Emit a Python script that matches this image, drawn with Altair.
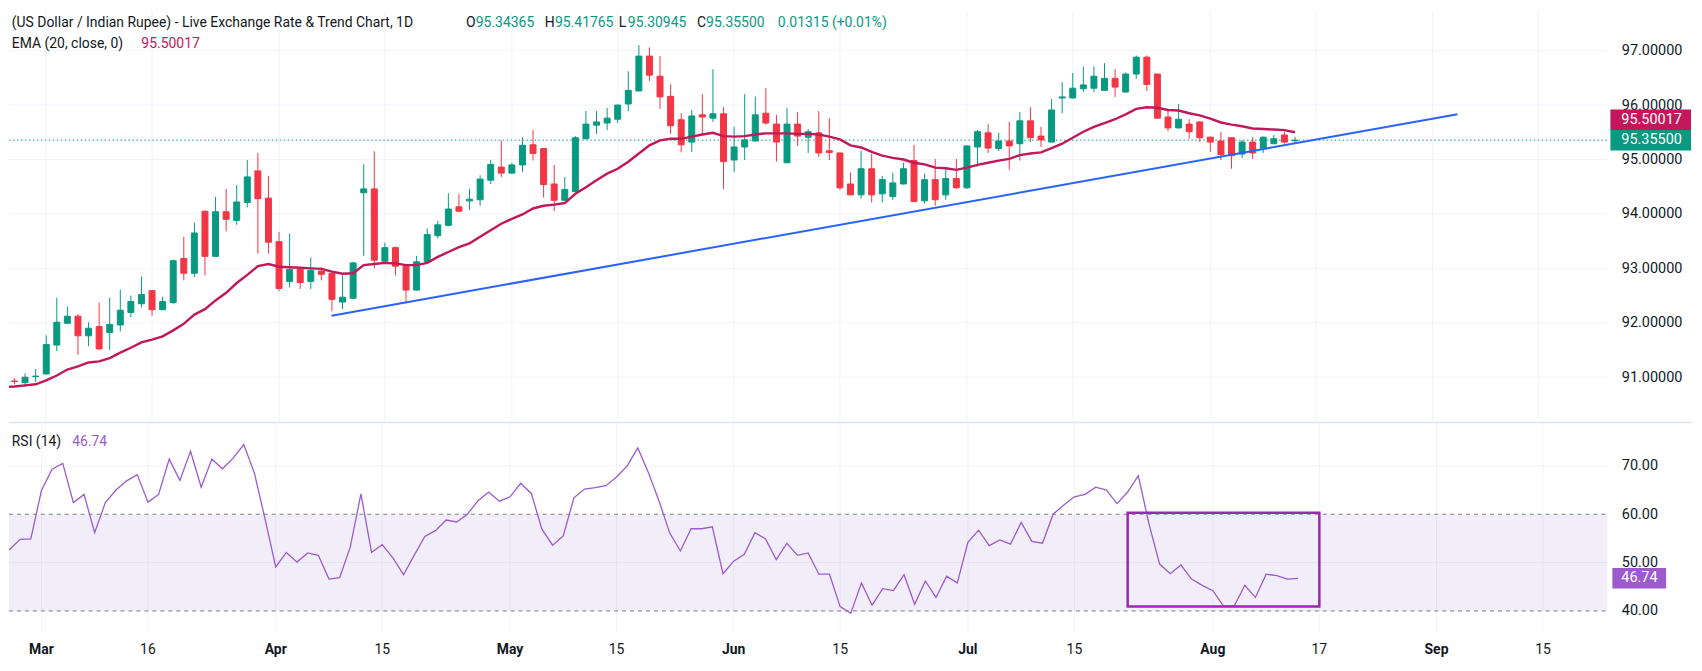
import altair as alt
import pandas as pd

alt.data_transformers.disable_max_rows()

# daily bars, weekends skipped; bar 0 = Mon 2 Mar, last bar = Thu 13 Aug
first_bar = -3
opens = [
    90.93, 90.90, 91.01, 91.06, 91.59, 91.99, 92.12, 91.76, 91.93, 91.82,
    91.96, 92.19, 92.35, 92.59, 92.24, 92.37, 93.18, 92.91, 94.05, 93.22,
    94.04, 93.88, 94.21, 94.79, 94.29, 93.49, 92.76, 92.98, 92.76, 92.95,
    92.91, 92.38, 92.45, 94.39, 94.46, 93.13, 93.38, 93.04, 92.60, 93.12,
    93.60, 93.79, 94.13, 94.24, 94.26, 94.62, 94.86, 94.75, 94.90, 95.27,
    95.20, 94.55, 94.25, 94.41, 95.38, 95.63, 95.67, 95.74, 96.02, 96.26,
    96.90, 96.53, 96.16, 95.73, 95.32, 95.82, 95.76, 95.84, 94.99, 95.23,
    95.34, 95.85, 95.65, 94.94, 95.65, 95.41, 95.49, 95.16, 95.12, 94.55,
    94.35, 94.83, 94.37, 94.32, 94.55, 94.98, 94.24, 94.63, 94.35, 94.65,
    94.48, 95.23, 95.49, 95.20, 95.34, 95.29, 95.71, 95.43, 95.32, 96.13,
    96.13, 96.30, 96.31, 96.27, 96.49, 96.24, 96.57, 96.88, 96.57, 95.78,
    95.58, 95.65, 95.69, 95.41, 95.34, 95.40, 95.10, 95.32, 95.20, 95.29,
    95.45, 95.34365,
]
highs = [
    90.98, 91.07, 91.15, 91.77, 92.46, 92.30, 92.16, 92.01, 92.37, 92.46,
    92.61, 92.50, 92.85, 92.60, 92.48, 93.16, 93.58, 93.84, 94.06, 94.31,
    94.46, 94.53, 94.99, 95.12, 94.70, 93.67, 93.64, 92.99, 93.20, 93.02,
    92.92, 92.87, 93.12, 94.91, 95.15, 93.47, 93.40, 93.05, 93.23, 93.73,
    93.87, 94.38, 94.37, 94.46, 94.71, 94.99, 95.35, 94.94, 95.41, 95.54,
    95.21, 94.90, 94.68, 95.43, 95.89, 95.89, 95.95, 96.01, 96.62, 97.10,
    97.06, 96.90, 96.38, 95.85, 95.91, 96.20, 96.66, 95.96, 95.60, 96.20,
    96.16, 96.31, 95.82, 95.95, 95.87, 95.56, 95.89, 95.76, 95.13, 94.76,
    95.16, 95.10, 94.70, 94.76, 94.94, 95.27, 94.74, 95.01, 94.83, 95.01,
    95.26, 95.54, 95.65, 95.49, 95.69, 95.87, 95.96, 95.60, 96.11, 96.42,
    96.59, 96.71, 96.71, 96.77, 96.66, 96.60, 96.91, 96.91, 96.57, 95.91,
    96.02, 95.74, 95.70, 95.42, 95.51, 95.41, 95.36, 95.41, 95.42, 95.45,
    95.51, 95.41765,
]
lows = [
    90.87, 90.82, 90.91, 91.05, 91.48, 91.98, 91.41, 91.57, 91.50, 91.50,
    91.84, 92.10, 92.28, 92.13, 92.23, 92.35, 92.78, 92.84, 92.87, 93.21,
    93.68, 93.80, 94.12, 93.27, 93.27, 92.58, 92.65, 92.62, 92.62, 92.78,
    92.21, 92.25, 92.43, 93.23, 93.00, 93.10, 92.87, 92.36, 92.59, 93.08,
    93.55, 93.77, 94.03, 94.07, 94.15, 94.55, 94.68, 94.74, 94.77, 94.98,
    94.30, 94.05, 94.24, 94.40, 95.37, 95.47, 95.54, 95.67, 95.89, 96.25,
    96.44, 95.93, 95.47, 95.13, 95.14, 95.47, 95.69, 94.46, 94.77, 94.99,
    95.33, 95.64, 94.96, 94.93, 95.25, 95.12, 95.05, 94.99, 94.44, 94.34,
    94.28, 94.21, 94.21, 94.26, 94.54, 94.21, 94.19, 94.15, 94.26, 94.46,
    94.46, 94.87, 95.12, 95.16, 94.81, 94.98, 95.32, 95.23, 95.32, 95.85,
    96.12, 96.24, 96.24, 96.27, 96.15, 96.23, 96.48, 96.26, 95.76, 95.52,
    95.57, 95.38, 95.32, 95.14, 94.99, 94.83, 95.03, 95.01, 95.12, 95.28,
    95.29, 95.30945,
]
closes = [
    90.92, 91.00, 91.02, 91.60, 92.01, 92.12, 91.76, 91.90, 91.52, 91.97,
    92.23, 92.39, 92.52, 92.24, 92.39, 93.14, 92.91, 93.65, 93.22, 94.04,
    93.90, 94.22, 94.68, 94.28, 93.48, 92.63, 92.98, 92.74, 92.96, 92.89,
    92.43, 92.47, 93.10, 94.46, 93.15, 93.38, 93.04, 92.60, 93.12, 93.62,
    93.80, 94.09, 94.05, 94.27, 94.64, 94.91, 94.75, 94.90, 95.26, 95.11,
    94.54, 94.25, 94.45, 95.40, 95.65, 95.69, 95.76, 96.00, 96.27, 96.90,
    96.55, 96.15, 95.62, 95.27, 95.80, 95.78, 95.84, 94.96, 95.23, 95.36,
    95.82, 95.67, 95.32, 95.65, 95.43, 95.51, 95.12, 95.13, 94.48, 94.35,
    94.83, 94.35, 94.63, 94.57, 94.83, 94.23, 94.63, 94.26, 94.65, 94.48,
    95.25, 95.51, 95.21, 95.34, 95.25, 95.71, 95.40, 95.36, 95.91, 96.15,
    96.31, 96.37, 96.53, 96.49, 96.33, 96.57, 96.88, 96.38, 95.76, 95.58,
    95.74, 95.51, 95.40, 95.32, 95.09, 95.07, 95.32, 95.12, 95.41, 95.38,
    95.32, 95.355,
]

first_line = -4
ema20 = [
    90.82, 90.83, 90.85, 90.87, 90.94, 91.03, 91.14, 91.20, 91.27, 91.29,
    91.35, 91.45, 91.54, 91.64, 91.69, 91.75, 91.86, 91.98, 92.15, 92.25,
    92.41, 92.55, 92.73, 92.88, 93.04, 93.08, 93.03, 93.02, 93.01, 93.00,
    92.99, 92.94, 92.90, 92.91, 93.06, 93.08, 93.10, 93.09, 93.06, 93.06,
    93.10, 93.21, 93.30, 93.39, 93.46, 93.58, 93.70, 93.82, 93.91, 93.99,
    94.10, 94.15, 94.17, 94.20, 94.37, 94.49, 94.62, 94.74, 94.83, 94.96,
    95.11, 95.26, 95.35, 95.38, 95.38, 95.42, 95.46, 95.49, 95.43, 95.42,
    95.43, 95.46, 95.48, 95.48, 95.48, 95.47, 95.47, 95.46, 95.42, 95.37,
    95.26, 95.22, 95.14, 95.07, 95.03, 95.00, 94.94, 94.91, 94.85, 94.84,
    94.81, 94.85, 94.90, 94.94, 94.98, 95.01, 95.08, 95.11, 95.13, 95.21,
    95.29, 95.40, 95.51, 95.60, 95.67, 95.74, 95.83, 95.93, 95.96, 95.95,
    95.91, 95.90, 95.85, 95.81, 95.75, 95.68, 95.64, 95.61, 95.57, 95.56,
    95.55, 95.54, 95.50017,
]
rsi14 = [
    52.8, 52.7, 54.8, 54.9, 64.9, 69.3, 70.5, 62.4, 64.1, 56.2,
    62.4, 65.0, 66.9, 68.2, 62.5, 64.1, 71.4, 67.0, 73.0, 65.6,
    71.4, 69.4, 71.6, 74.4, 68.5, 59.0, 49.1, 52.1, 50.1, 52.0,
    51.5, 46.6, 46.9, 53.2, 64.2, 52.1, 53.7, 51.0, 47.5, 51.5,
    55.4, 56.6, 58.8, 58.4, 60.0, 62.8, 64.6, 62.7, 63.6, 66.4,
    64.3, 56.9, 53.6, 55.5, 63.4, 65.2, 65.5, 65.9, 67.7, 70.0,
    73.7, 68.6, 62.7, 56.1, 52.4, 57.0, 57.0, 57.4, 47.7, 50.3,
    51.7, 56.2, 54.9, 50.6, 54.0, 51.5, 52.0, 47.6, 47.6, 40.9,
    39.5, 45.8, 41.2, 44.6, 44.2, 47.5, 41.4, 46.2, 42.8, 47.2,
    45.8, 54.2, 56.7, 53.5, 54.7, 53.8, 58.3, 54.4, 54.0, 60.0,
    61.9, 63.6, 64.1, 65.6, 65.0, 62.2, 64.6, 68.0, 58.0, 49.7,
    47.7, 49.5, 46.6, 45.3, 44.2, 41.0, 41.0, 45.3, 42.8, 47.6,
    47.3, 46.6, 46.74,
]

trend_bar = [26.96, 133.36]
trend_price = [92.13, 95.83]

box_bar = [102, 120]
box_rsi = [40.9, 60.3]

tick_bar = [0, 10, 22, 32, 44, 54, 65, 75, 87, 97, 110, 120, 131, 141]
tick_text = ["Mar", "16", "Apr", "15", "May", "15", "Jun", "15", "Jul", "15",
             "Aug", "17", "Sep", "15"]

price_ticks = [91, 92, 93, 94, 95, 96, 97]
rsi_ticks = [40, 50, 60, 70]
rsi_grid = [50, 70]
rsi_band = [40, 60]

title_text = "(US Dollar / Indian Rupee) - Live Exchange Rate & Trend Chart, 1D"
change_text = "0.01315 (+0.01%)"
ema_text = "EMA (20, close, 0)"
rsi_text = "RSI (14)"

# colours / layout
TXT = "#131722"
UP = "#089981"
DOWN = "#F23645"
EMA_C = "#C2185B"
TREND_C = "#2962FF"
RSI_C = "#9C5ACD"
BOX_C = "#9C27B0"
GRID = "#F0F3FA"
SEP = "#E0E3EB"
DASH = "#787B86"
FONT = "Roboto"
AX_FS = 14.5

W, HP, HR = 1606, 414, 211
xs = alt.Scale(domain=[-3.047, 147.05], nice=False, zero=False)
ps = alt.Scale(domain=[90.166, 97.737], nice=False, zero=False)
rs = alt.Scale(domain=[35.53, 78.95], nice=False, zero=False)

n = len(opens)
bars = pd.DataFrame({
    "bar": list(range(first_bar, first_bar + n)),
    "o": opens, "h": highs, "l": lows, "c": closes,
})
bars["dir"] = ["up" if c >= o else "down" for o, c in zip(opens, closes)]
lines = pd.DataFrame({
    "bar": list(range(first_line, first_line + len(ema20))),
    "ema": ema20, "rsi": rsi14,
})
ticks = pd.DataFrame({"bar": tick_bar, "lbl": tick_text})
ticks["month"] = [t.isalpha() for t in tick_text]

price_axis = alt.Axis(
    orient="right", values=price_ticks, format=".5f", grid=False, domain=False,
    ticks=False, labelPadding=14, labelFont=FONT, labelFontSize=AX_FS,
    labelColor=TXT, title=None,
)
rsi_axis = alt.Axis(
    orient="right", values=rsi_ticks, format=".2f", grid=False, domain=False,
    ticks=False, labelPadding=14, labelFont=FONT, labelFontSize=AX_FS,
    labelColor=TXT, title=None,
)


def xq(f="bar"):
    return alt.X(f"{f}:Q", scale=xs, axis=None)


def yp(f):
    return alt.Y(f"{f}:Q", scale=ps, axis=price_axis)


def yr(f):
    return alt.Y(f"{f}:Q", scale=rs, axis=rsi_axis)


def text(s, x, y, color, size=14, weight="normal", align="left"):
    return alt.Chart(pd.DataFrame({"t": [s]})).mark_text(
        align=align, baseline="middle", font=FONT, fontSize=size,
        fontWeight=weight, color=color,
    ).encode(x=alt.value(x), y=alt.value(y), text="t:N")


def axis_tag(v, s, color, yenc, unit, x1, shift=0.0):
    d = pd.DataFrame({"v": [v], "lo": [v - 10.3 * unit], "hi": [v + 10.3 * unit], "t": [s]})
    box = alt.Chart(d).mark_rect(color=color, yOffset=shift, y2Offset=shift).encode(
        x=alt.value(1609), x2=alt.value(x1), y=yenc("hi"), y2="lo:Q",
    )
    lab = alt.Chart(d).mark_text(
        align="left", baseline="middle", font=FONT, fontSize=AX_FS, color="white",
        yOffset=shift,
    ).encode(x=alt.value(1620), y=yenc("v"), text="t:N")
    return box + lab


def vgrid(h):
    return alt.Chart(ticks).mark_rule(color=GRID, strokeWidth=1).encode(
        x=xq(), y=alt.value(0), y2=alt.value(h))


# ---- price pane ----
hgrid = alt.Chart(pd.DataFrame({"p": price_ticks})).mark_rule(color=GRID).encode(
    y=yp("p"), x=alt.value(0), x2=alt.value(W))

last_line = alt.Chart(pd.DataFrame({"p": [closes[-1]]})).mark_rule(
    color=UP, strokeWidth=1, strokeDash=[1.5, 2.5]).encode(
    y=yp("p"), x=alt.value(0), x2=alt.value(W))

dir_color = alt.Scale(domain=["up", "down"], range=[UP, DOWN])
wicks = alt.Chart(bars).mark_rule(strokeWidth=1, clip=True).encode(
    x=xq(), y=yp("l"), y2="h:Q",
    color=alt.Color("dir:N", scale=dir_color, legend=None))
bodies = alt.Chart(bars).mark_bar(size=6, strokeWidth=1, clip=True).encode(
    x=xq(), y=yp("o"), y2="c:Q",
    color=alt.Color("dir:N", scale=dir_color, legend=None),
    stroke=alt.Stroke("dir:N", scale=dir_color, legend=None))

ema_line = alt.Chart(lines).mark_line(color=EMA_C, strokeWidth=2.4, clip=True).encode(
    x=xq(), y=yp("ema"))

trend = alt.Chart(pd.DataFrame({"bar": trend_bar, "p": trend_price})).mark_line(
    color=TREND_C, strokeWidth=2).encode(x=xq(), y=yp("p"))

head1 = [
    (title_text, TXT, 2.8), ("O", TXT, 459.2), (f"{opens[-1]:.5f}", UP, 469.0),
    ("H", TXT, 538.3), (f"{highs[-1]:.5f}", UP, 548.6),
    ("L", TXT, 612.6), (f"{lows[-1]:.5f}", UP, 621.8),
    ("C", TXT, 691.2), (f"{closes[-1]:.5f}", UP, 700.4),
    (change_text, UP, 772.5),
]
header = [text(s, x, 13, c) for s, c, x in head1]
header += [text(ema_text, 2.8, 34, TXT), text(f"{ema20[-1]:.5f}", 133, 34, EMA_C)]

p_unit = (97.737 - 90.166) / HP
price = alt.layer(
    vgrid(HP), hgrid, last_line, wicks, bodies, ema_line, trend,
    axis_tag(ema20[-1], f"{ema20[-1]:.5f}", EMA_C, yp, p_unit, 1690, shift=-12.5),
    axis_tag(closes[-1], f"{closes[-1]:.5f}", UP, yp, p_unit, 1690),
    *header,
).properties(width=W, height=HP)

# ---- RSI pane ----
r_grid = alt.Chart(pd.DataFrame({"r": rsi_grid})).mark_rule(color=GRID).encode(
    y=yr("r"), x=alt.value(0), x2=alt.value(W))
band = alt.Chart(pd.DataFrame({"lo": [rsi_band[0]], "hi": [rsi_band[1]]})).mark_rect(
    color="#7E57C2", opacity=0.1).encode(
    y=yr("hi"), y2="lo:Q", x=alt.value(0), x2=alt.value(W))
band_edges = alt.Chart(pd.DataFrame({"r": rsi_band})).mark_rule(
    color=DASH, strokeWidth=1, strokeDash=[4, 4]).encode(
    y=yr("r"), x=alt.value(0), x2=alt.value(W))
rsi_line = alt.Chart(lines).mark_line(color=RSI_C, strokeWidth=1.3, clip=True).encode(
    x=xq(), y=yr("rsi"))
box = alt.Chart(pd.DataFrame({
    "b0": [box_bar[0]], "b1": [box_bar[1]], "r0": [box_rsi[0]], "r1": [box_rsi[1]],
})).mark_rect(fill=None, stroke=BOX_C, strokeWidth=2.5).encode(
    x=xq("b0"), x2="b1:Q", y=yr("r1"), y2="r0:Q")
sep = alt.Chart(pd.DataFrame({"a": [0]})).mark_rule(color=SEP, strokeWidth=1.5).encode(
    x=alt.value(0), x2=alt.value(1692), y=alt.value(0))

month_lbl = alt.Chart(ticks).transform_filter("datum.month").mark_text(
    font=FONT, fontSize=14, fontWeight="bold", color=TXT, baseline="middle").encode(
    x=xq(), y=alt.value(HR + 18), text="lbl:N")
day_lbl = alt.Chart(ticks).transform_filter("!datum.month").mark_text(
    font=FONT, fontSize=14, color=TXT, baseline="middle").encode(
    x=xq(), y=alt.value(HR + 18), text="lbl:N")

r_unit = (78.95 - 35.53) / HR
rsi_tag_d = pd.DataFrame({"v": [rsi14[-1]], "lo": [rsi14[-1] - 10.3 * r_unit],
                          "hi": [rsi14[-1] + 10.3 * r_unit], "t": [f"{rsi14[-1]:.2f}"]})
rsi_tag = alt.Chart(rsi_tag_d).mark_rect(color=RSI_C).encode(
    x=alt.value(1611), x2=alt.value(1665), y=yr("hi"), y2="lo:Q",
) + alt.Chart(rsi_tag_d).mark_text(
    align="left", baseline="middle", font=FONT, fontSize=AX_FS, color="white").encode(
    x=alt.value(1620), y=yr("v"), text="t:N")

rsi = alt.layer(
    vgrid(HR), r_grid, band, band_edges, rsi_line, box, sep, month_lbl, day_lbl,
    rsi_tag,
    text(rsi_text, 2.8, 20, TXT), text(f"{rsi14[-1]:.2f}", 63.5, 20, RSI_C),
).properties(width=W, height=HR)

chart = alt.vconcat(price, rsi, spacing=0, bounds="flush").properties(
    padding=0, background="white"
).configure_view(stroke=None)

chart.save("out.html", embed_options={"renderer": "svg", "actions": False})
